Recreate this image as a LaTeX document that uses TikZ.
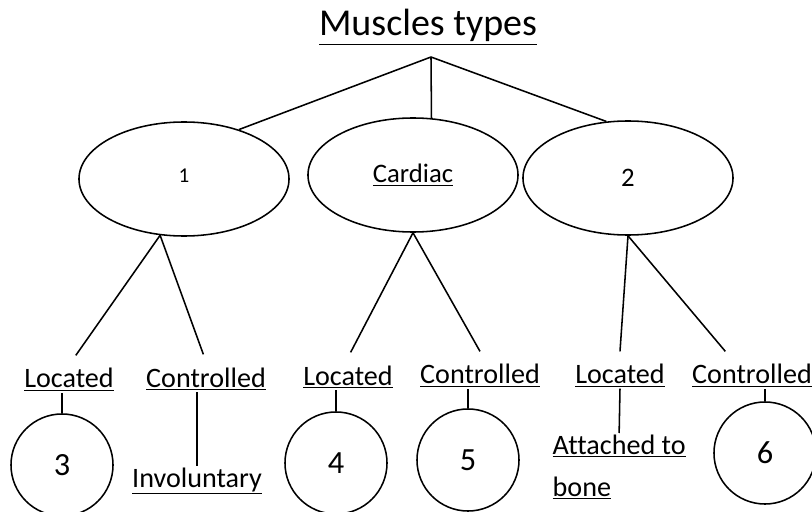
\documentclass[tikz,border=0pt]{standalone}
\usepackage{fontspec}
\setmainfont{Carlito}[Ligatures=NoCommon]
\usepackage{tikz}
\usetikzlibrary{shapes.geometric}
\tikzset{
  kind/.style  ={ellipse,draw,line width=1.1pt,minimum width=5.25cm,
                 minimum height=2.85cm,inner sep=0pt},
  leaf/.style  ={circle,draw,line width=1.1pt,minimum size=2.55cm,inner sep=0pt,
                 font=\fontsize{23}{27}\selectfont},
  tag/.style   ={anchor=base,inner sep=1pt,text height=22pt,
                 font=\fontsize{20}{24}\selectfont},
  answer/.style={inner sep=1pt,align=left,font=\fontsize{20}{30}\selectfont},
  link/.style  ={line width=1.1pt}
}

\begin{document}
\begin{tikzpicture}[x=0.025cm,y=-0.025cm]
    \useasboundingbox (0,0) rectangle (812,512);
    % --- title and root ---
    \node[anchor=base,inner sep=1pt,font=\fontsize{27}{32}\selectfont] (title)
      at (428,36) {\underline{Muscles types}};
    \coordinate (apex) at (431,57);
    % --- the three kinds ---
    \node[kind] (e1) at (184,179) {\raisebox{4pt}{\fontsize{15}{18}\selectfont 1}};
    \node[kind] (cardiac) at (413,175) {\fontsize{19}{22}\selectfont\underline{Cardiac}};
    \node[kind] (e2) at (628,178) {\fontsize{19}{22}\selectfont 2};
    % --- located / controlled row ---
    \node[tag] (loc1) at (69,388) {\underline{Located}};
    \node[tag] (ctl1) at (206,387) {\underline{Controlled}};
    \node[tag] (loc2) at (348,385) {\underline{Located}};
    \node[tag] (ctl2) at (480,384) {\underline{Controlled}};
    \node[tag] (loc3) at (620,384) {\underline{Located}};
    \node[tag] (ctl3) at (752,384) {\underline{Controlled}};
    % --- answers ---
    \node[leaf] (c3) at (62,465) {3};
    \node[answer,anchor=base] (invol) at (197,487) {\underline{Involuntary}};
    \node[leaf] (c4) at (336,463) {4};
    \node[leaf] (c5) at (468,460) {5};
    \node[answer,anchor=north west] (att) at (551,433)
      {\underline{Attached to}\\\underline{bone}};
    \node[leaf] (c6) at (765,453) {6};
    % --- links ---
    \draw[link] (apex) -- (e1.42);
    \draw[link] (apex) -- (cardiac.72);
    \draw[link] (apex) -- (e2.111);
    \draw[link] (e1.247) -- (loc1.70);
    \draw[link] (e1.247) -- (ctl1.98);
    \draw[link] (cardiac.south) -- (loc2.82);
    \draw[link] (cardiac.south) -- (ctl2.north);
    \draw[link] (e2.south) -- (loc3.north);
    \draw[link] (e2.south) -- (ctl3.145);
    \draw[link] (c3.north) -- (c3.north |- loc1.south);
    \draw[link] (invol.north) -- (invol.north |- ctl1.south);
    \draw[link] (c4.north) -- (c4.north |- loc2.south);
    \draw[link] (c5.north) -- (c5.north |- ctl2.south);
    \draw[link] (loc3.south) -- (att.north);
    \draw[link] (c6.north) -- (c6.north |- ctl3.south);
\end{tikzpicture}
\end{document}
